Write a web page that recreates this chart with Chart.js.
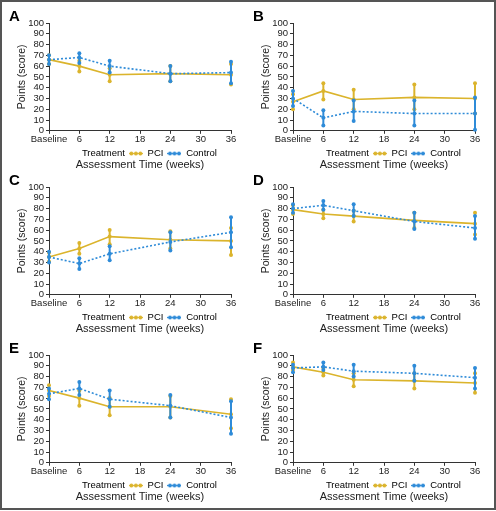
<!DOCTYPE html>
<html>
<head>
<meta charset="utf-8">
<script src="https://cdn.jsdelivr.net/npm/chart.js@4.4.1/dist/chart.umd.min.js"></script>
<style>
  body { margin: 0; background: #fff; }
  #figure { position: relative; width: 496px; height: 511px; overflow: hidden; background: #fff; }
  #frame { position: absolute; left: 0; top: 0; width: 496px; height: 510px; border: 2px solid #555; box-sizing: border-box; }
  .panel { position: absolute; width: 246px; height: 172px; }
  .panel canvas { display: block; }
</style>
</head>
<body>
<div id="figure">
  <div id="frame"></div>
  <div class="panel" style="left:0;top:0"><canvas id="panel0" width="246" height="172"></canvas></div>
  <div class="panel" style="left:244px;top:0"><canvas id="panel1" width="246" height="172"></canvas></div>
  <div class="panel" style="left:0;top:164px"><canvas id="panel2" width="246" height="172"></canvas></div>
  <div class="panel" style="left:244px;top:164px"><canvas id="panel3" width="246" height="172"></canvas></div>
  <div class="panel" style="left:0;top:332px"><canvas id="panel4" width="246" height="172"></canvas></div>
  <div class="panel" style="left:244px;top:332px"><canvas id="panel5" width="246" height="172"></canvas></div>
</div>
<script>
const panelLetters = ['A', 'B', 'C', 'D', 'E', 'F'];
const weeks = [0, 6, 12, 24, 36];
const xTickLabels = ['Baseline', '6', '12', '18', '24', '30', '36'];

// one row per panel, A..F; columns follow weeks
const pciMean = [
  [66, 60, 52, 53, 52],
  [27, 37, 29, 31, 30],
  [35, 43, 54, 51, 50],
  [79, 75, 73, 69, 66],
  [67, 60, 52, 52, 45],
  [89, 84, 77, 76, 74]
];
const pciLow = [
  [62, 55, 46, 46, 43],
  [20, 29, 20, 20, 16],
  [31, 38, 47, 43, 37],
  [75, 71, 68, 62, 56],
  [62, 53, 44, 42, 32],
  [86, 81, 71, 69, 65]
];
const pciHigh = [
  [70, 65, 58, 60, 62],
  [34, 44, 38, 43, 44],
  [39, 48, 60, 59, 62],
  [83, 79, 78, 76, 76],
  [72, 67, 60, 62, 59],
  [93, 88, 83, 83, 83]
];
const ctlMean = [
  [66, 68, 60, 53, 54],
  [30, 12, 18, 16, 16],
  [35, 29, 38, 49, 58],
  [80, 83, 78, 68, 62],
  [64, 69, 59, 53, 42],
  [88, 89, 85, 83, 79]
];
const ctlLow = [
  [62, 63, 54, 46, 44],
  [23, 5, 9, 5, 1],
  [30, 24, 32, 41, 44],
  [76, 79, 73, 61, 52],
  [59, 63, 52, 42, 27],
  [84, 86, 80, 76, 69]
];
const ctlHigh = [
  [70, 72, 65, 60, 64],
  [37, 19, 28, 28, 31],
  [40, 34, 45, 58, 72],
  [84, 87, 84, 76, 73],
  [69, 75, 67, 63, 57],
  [91, 93, 91, 90, 88]
];

const YELLOW = '#dbb42c';
const BLUE = '#2e8bd8';
const INK = '#222';

Chart.defaults.font.family = "'Liberation Sans', Arial, sans-serif";
Chart.defaults.color = INK;
Chart.defaults.animation = false;

// vertical error bars with dot caps, drawn right after their own line
const errorBars = {
  id: 'errorBars',
  afterDatasetDraw(chart, args) {
    const ds = chart.data.datasets[args.index];
    if (!ds.errLow) return;
    const y = chart.scales.y;
    const ctx = chart.ctx;
    ctx.save();
    ctx.strokeStyle = ds.borderColor;
    ctx.fillStyle = ds.borderColor;
    ctx.lineWidth = 2;
    args.meta.data.forEach((pt, i) => {
      const top = y.getPixelForValue(ds.errHigh[i]);
      const bot = y.getPixelForValue(ds.errLow[i]);
      ctx.beginPath();
      ctx.moveTo(pt.x, top);
      ctx.lineTo(pt.x, bot);
      ctx.stroke();
      [top, bot].forEach(py => {
        ctx.beginPath();
        ctx.arc(pt.x, py, 2, 0, Math.PI * 2);
        ctx.fill();
      });
    });
    ctx.restore();
  }
};

const panelLetter = {
  id: 'panelLetter',
  afterDraw(chart, args, opts) {
    const ctx = chart.ctx;
    ctx.save();
    ctx.font = "bold 15px 'Liberation Sans', Arial, sans-serif";
    ctx.fillStyle = '#000';
    ctx.textBaseline = 'alphabetic';
    ctx.fillText(opts.text, 9, 21);
    ctx.restore();
  }
};

function makeMarker(color) {
  const c = document.createElement('canvas');
  c.width = 14;
  c.height = 5;
  const g = c.getContext('2d');
  g.strokeStyle = color;
  g.fillStyle = color;
  g.lineWidth = 1;
  g.beginPath();
  g.moveTo(0, 2.5);
  g.lineTo(14, 2.5);
  g.stroke();
  [2.5, 7, 11.5].forEach(x => {
    g.beginPath();
    g.arc(x, 2.5, 2, 0, Math.PI * 2);
    g.fill();
  });
  return c;
}
const blankMarker = document.createElement('canvas');
blankMarker.width = 1;
blankMarker.height = 1;
const pciMarker = makeMarker(YELLOW);
const ctlMarker = makeMarker(BLUE);

const toPoints = (vals) => weeks.map((w, i) => ({ x: w, y: vals[i] }));

const axisGrid = { display: true, drawOnChartArea: false, drawTicks: true, tickLength: 3, color: '#333', lineWidth: 1 };
const axisBorder = { display: true, color: '#333', width: 1 };

panelLetters.forEach((letter, p) => {
  new Chart(document.getElementById('panel' + p), {
    type: 'line',
    data: {
      datasets: [
        {
          label: 'PCI',
          data: toPoints(pciMean[p]),
          errLow: pciLow[p],
          errHigh: pciHigh[p],
          borderColor: YELLOW,
          backgroundColor: YELLOW,
          borderWidth: 1.6,
          pointRadius: 2,
          pointBorderWidth: 0,
          pointBackgroundColor: YELLOW,
          clip: false,
          order: 1
        },
        {
          label: 'Control',
          data: toPoints(ctlMean[p]),
          errLow: ctlLow[p],
          errHigh: ctlHigh[p],
          borderColor: BLUE,
          backgroundColor: BLUE,
          borderWidth: 1.6,
          borderDash: [2, 2],
          pointRadius: 2,
          pointBorderWidth: 0,
          pointBackgroundColor: BLUE,
          clip: false,
          order: 0
        }
      ]
    },
    options: {
      responsive: false,
      layout: { padding: { top: 23, right: 15, left: 0, bottom: 0 } },
      scales: {
        x: {
          type: 'linear',
          min: 0,
          max: 36,
          grid: axisGrid,
          border: axisBorder,
          afterFit: (s) => { s.height = 14; },
          ticks: {
            stepSize: 6,
            padding: 0,
            maxRotation: 0,
            autoSkip: false,
            font: { size: 9.5 },
            callback: (v, i) => xTickLabels[i]
          }
        },
        y: {
          min: 0,
          max: 100,
          grid: axisGrid,
          border: axisBorder,
          afterFit: (s) => { s.width = 49; },
          ticks: { stepSize: 10, padding: 2, autoSkip: false, font: { size: 9.5 } },
          title: {
            display: true,
            text: 'Points (score)',
            font: { size: 10.5 },
            padding: { top: 16, bottom: 0 }
          }
        }
      },
      plugins: {
        panelLetter: { text: letter },
        tooltip: { enabled: false },
        legend: {
          position: 'bottom',
          fullSize: false,
          maxHeight: 14,
          onClick: null,
          labels: {
            usePointStyle: true,
            pointStyleWidth: 14,
            padding: 4,
            font: { size: 9.5 },
            color: INK,
            generateLabels: () => [
              { text: 'Treatment', pointStyle: blankMarker, fillStyle: 'transparent', strokeStyle: 'transparent', lineWidth: 0, hidden: false },
              { text: 'PCI', pointStyle: pciMarker, fillStyle: YELLOW, strokeStyle: YELLOW, lineWidth: 0, hidden: false },
              { text: 'Control', pointStyle: ctlMarker, fillStyle: BLUE, strokeStyle: BLUE, lineWidth: 0, hidden: false }
            ]
          }
        },
        title: {
          display: true,
          position: 'bottom',
          fullSize: false,
          text: 'Assessment Time (weeks)',
          color: INK,
          font: { size: 11, weight: 'normal' },
          padding: { top: 0, bottom: 0 }
        }
      }
    },
    plugins: [errorBars, panelLetter]
  });
});
</script>
</body>
</html>
